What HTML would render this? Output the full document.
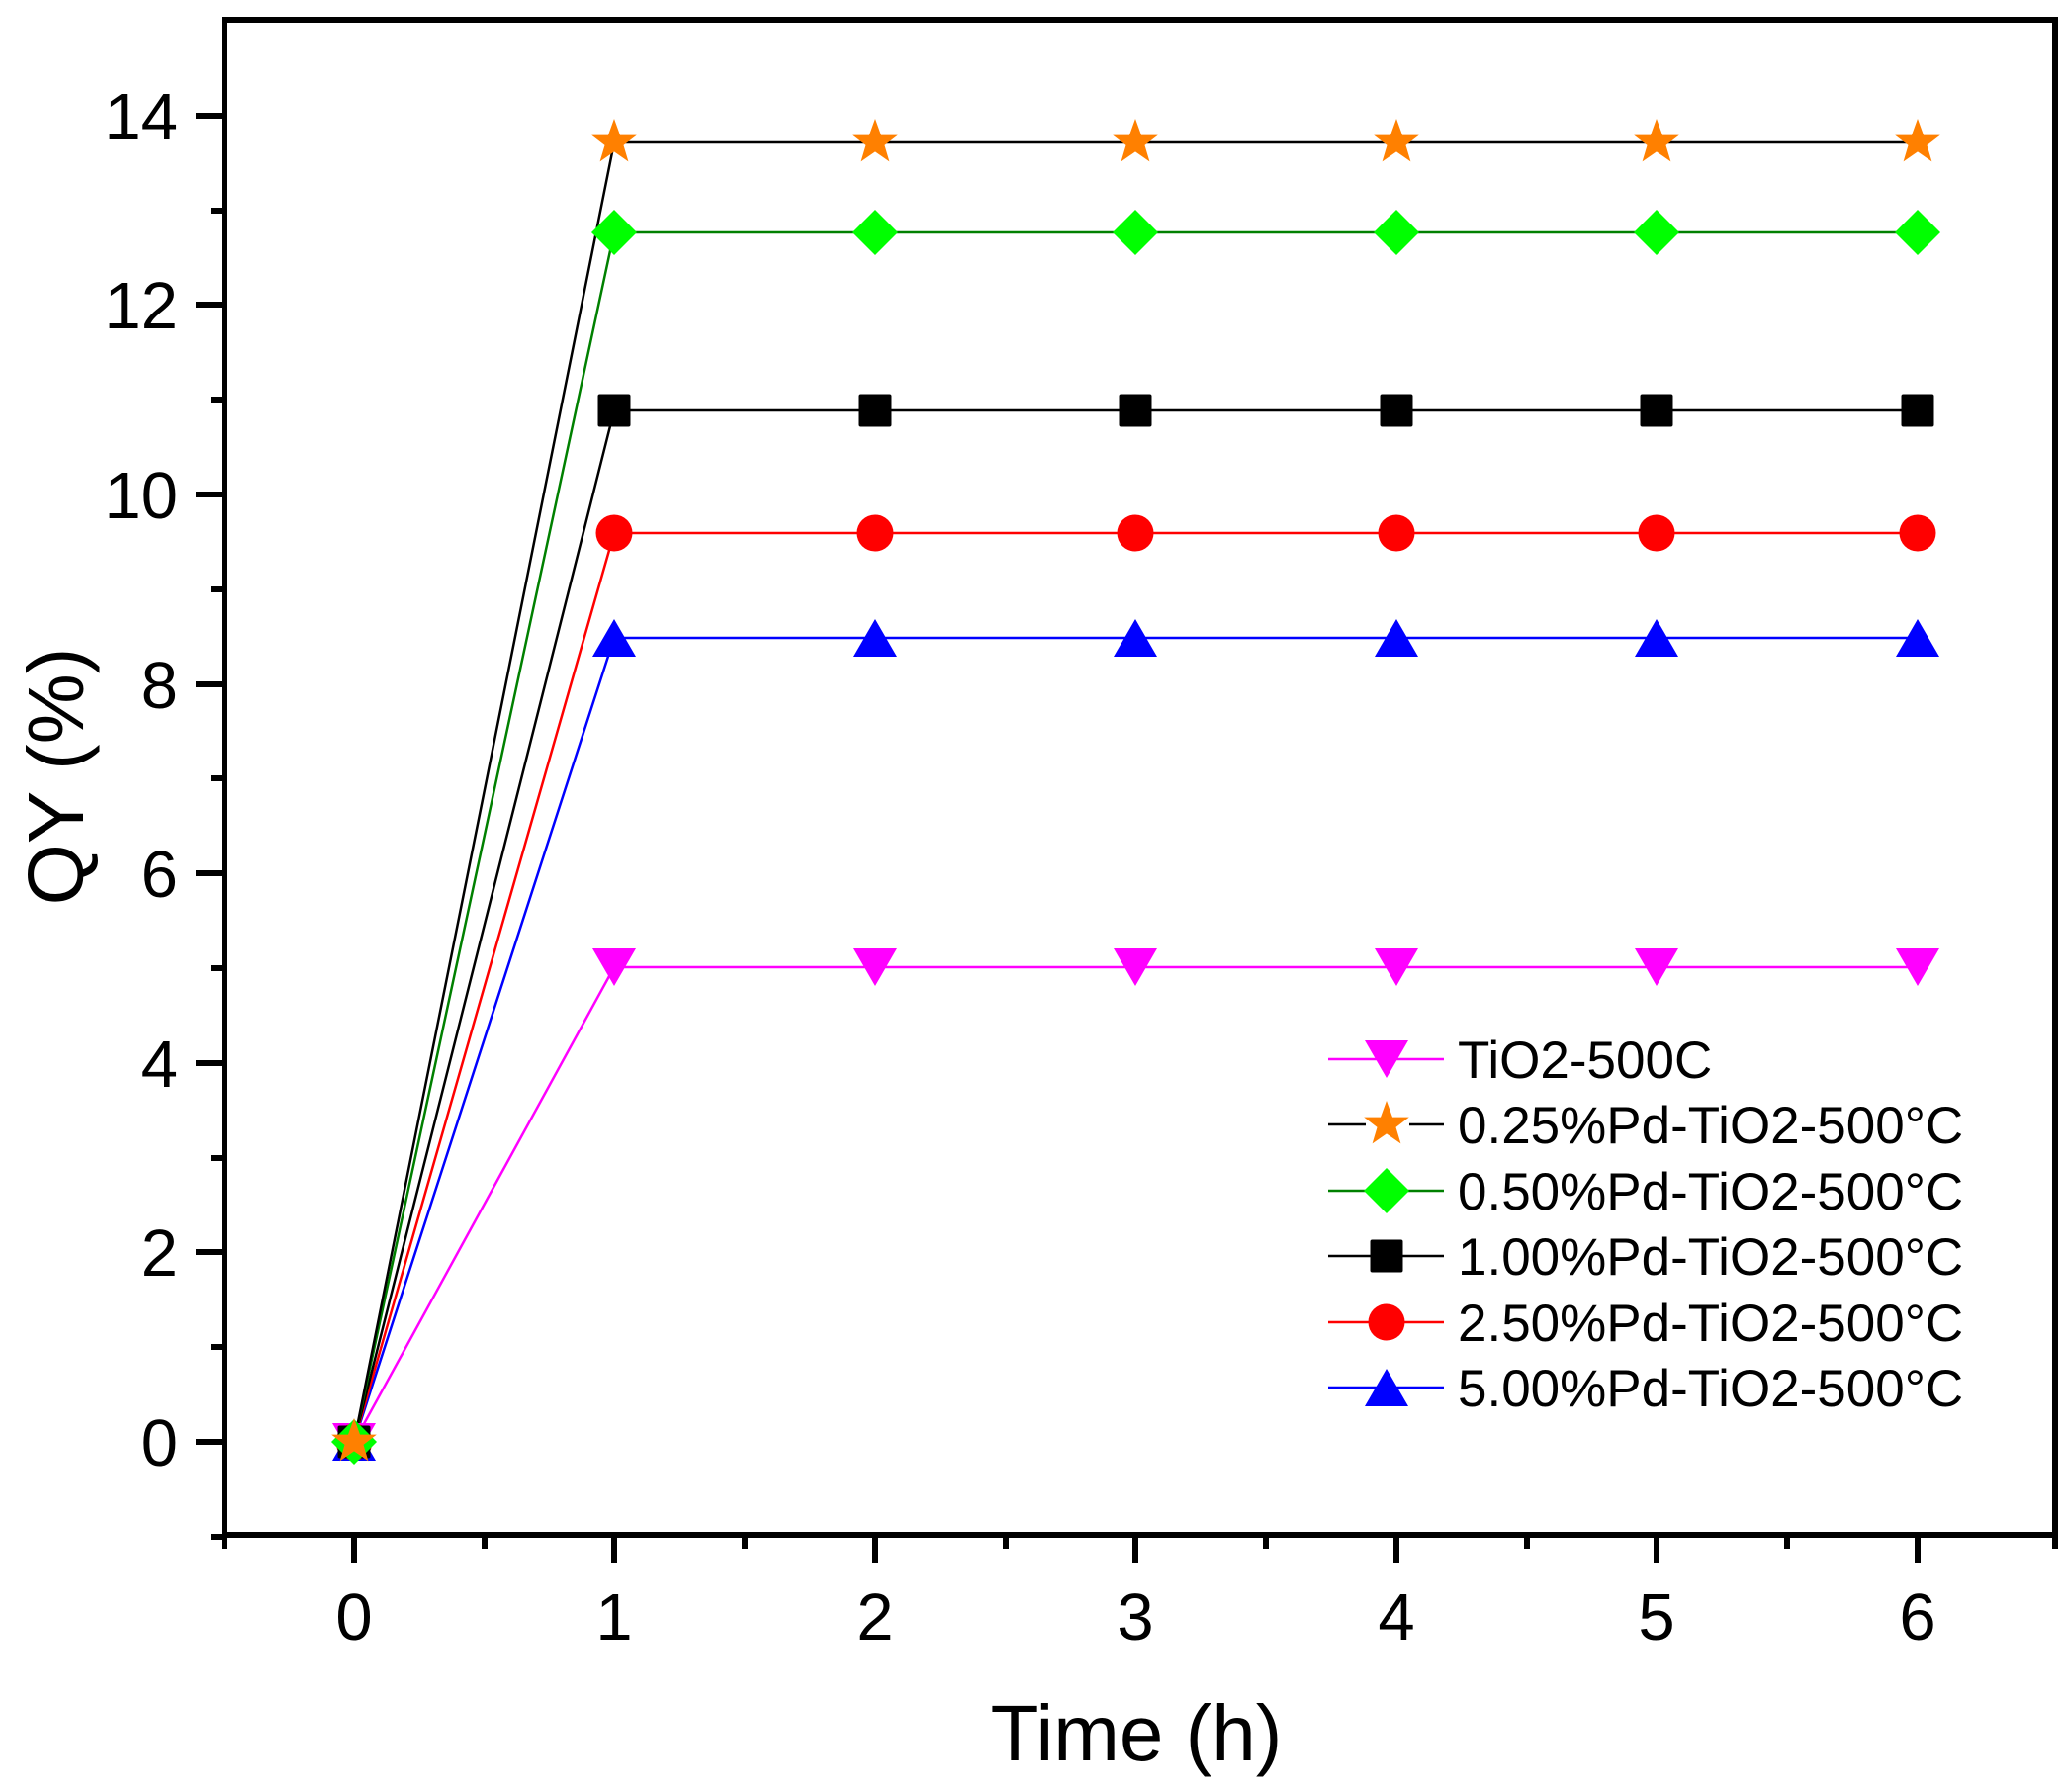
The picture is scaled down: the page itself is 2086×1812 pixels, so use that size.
<!DOCTYPE html>
<html><head><meta charset="utf-8"><style>
html,body{margin:0;padding:0;background:#fff}
svg{display:block}
text{font-family:"Liberation Sans",Arial,sans-serif;fill:#000}
</style></head><body>
<svg width="2086" height="1812" viewBox="0 0 2086 1812" xmlns="http://www.w3.org/2000/svg">
<defs>
<g id="dn"><polygon points="-22,-19 22,-19 0,19" fill="#ff00ff"/></g>
<g id="up"><polygon points="-22,19 22,19 0,-19" fill="#0000ff"/></g>
<g id="ci"><circle r="18.5" fill="#ff0000"/></g>
<g id="sq"><rect x="-16.5" y="-16.5" width="33" height="33" rx="2" fill="#000"/></g>
<g id="di"><polygon points="0,-23 23,0 0,23 -23,0" fill="#00ff00"/></g>
<g id="st"><polygon points="0,-24 6,-7.4 22.8,-7.4 9.5,2.9 14.4,19.4 0,9.4 -14.4,19.4 -9.5,2.9 -22.8,-7.4 -6,-7.4" fill="#ff8000"/></g>
</defs>
<g stroke-width="2.5" fill="none">
<polyline stroke="#ff00ff" points="358,1458 621,978 885,978 1148,978 1412,978 1675,978 1939,978"/>
<polyline stroke="#0000ff" points="358,1458 621,645 885,645 1148,645 1412,645 1675,645 1939,645"/>
<polyline stroke="#ff0000" points="358,1458 621,539 885,539 1148,539 1412,539 1675,539 1939,539"/>
<polyline stroke="#000" points="358,1458 621,415 885,415 1148,415 1412,415 1675,415 1939,415"/>
<polyline stroke="#008000" points="358,1458 621,235 885,235 1148,235 1412,235 1675,235 1939,235"/>
<polyline stroke="#000" points="358,1458 621,144 885,144 1148,144 1412,144 1675,144 1939,144"/>
</g>
<g>
<use href="#dn" x="358" y="1458"/><use href="#dn" x="621" y="978"/><use href="#dn" x="885" y="978"/><use href="#dn" x="1148" y="978"/><use href="#dn" x="1412" y="978"/><use href="#dn" x="1675" y="978"/><use href="#dn" x="1939" y="978"/>
<use href="#up" x="358" y="1458"/><use href="#up" x="621" y="645"/><use href="#up" x="885" y="645"/><use href="#up" x="1148" y="645"/><use href="#up" x="1412" y="645"/><use href="#up" x="1675" y="645"/><use href="#up" x="1939" y="645"/>
<use href="#ci" x="358" y="1458"/><use href="#ci" x="621" y="539"/><use href="#ci" x="885" y="539"/><use href="#ci" x="1148" y="539"/><use href="#ci" x="1412" y="539"/><use href="#ci" x="1675" y="539"/><use href="#ci" x="1939" y="539"/>
<use href="#sq" x="358" y="1458"/><use href="#sq" x="621" y="415"/><use href="#sq" x="885" y="415"/><use href="#sq" x="1148" y="415"/><use href="#sq" x="1412" y="415"/><use href="#sq" x="1675" y="415"/><use href="#sq" x="1939" y="415"/>
<use href="#di" x="358" y="1458"/><use href="#di" x="621" y="235"/><use href="#di" x="885" y="235"/><use href="#di" x="1148" y="235"/><use href="#di" x="1412" y="235"/><use href="#di" x="1675" y="235"/><use href="#di" x="1939" y="235"/>
<use href="#st" x="358" y="1458"/><use href="#st" x="621" y="144"/><use href="#st" x="885" y="144"/><use href="#st" x="1148" y="144"/><use href="#st" x="1412" y="144"/><use href="#st" x="1675" y="144"/><use href="#st" x="1939" y="144"/>
</g>
<g stroke="#000" stroke-width="6" fill="none">
<rect x="227" y="20" width="1851" height="1532"/>
</g>
<g stroke="#000" stroke-width="6">
<line x1="198" y1="1458" x2="227" y2="1458"/><line x1="198" y1="1266" x2="227" y2="1266"/><line x1="198" y1="1075" x2="227" y2="1075"/><line x1="198" y1="883" x2="227" y2="883"/><line x1="198" y1="692" x2="227" y2="692"/><line x1="198" y1="500" x2="227" y2="500"/><line x1="198" y1="308" x2="227" y2="308"/><line x1="198" y1="117" x2="227" y2="117"/>
<line x1="213" y1="1554" x2="227" y2="1554"/><line x1="213" y1="1362" x2="227" y2="1362"/><line x1="213" y1="1171" x2="227" y2="1171"/><line x1="213" y1="979" x2="227" y2="979"/><line x1="213" y1="787" x2="227" y2="787"/><line x1="213" y1="596" x2="227" y2="596"/><line x1="213" y1="404" x2="227" y2="404"/><line x1="213" y1="213" x2="227" y2="213"/>
<line x1="358" y1="1552" x2="358" y2="1580"/><line x1="621" y1="1552" x2="621" y2="1580"/><line x1="885" y1="1552" x2="885" y2="1580"/><line x1="1148" y1="1552" x2="1148" y2="1580"/><line x1="1412" y1="1552" x2="1412" y2="1580"/><line x1="1675" y1="1552" x2="1675" y2="1580"/><line x1="1939" y1="1552" x2="1939" y2="1580"/>
<line x1="227" y1="1552" x2="227" y2="1566"/><line x1="490" y1="1552" x2="490" y2="1566"/><line x1="753" y1="1552" x2="753" y2="1566"/><line x1="1017" y1="1552" x2="1017" y2="1566"/><line x1="1280" y1="1552" x2="1280" y2="1566"/><line x1="1544" y1="1552" x2="1544" y2="1566"/><line x1="1807" y1="1552" x2="1807" y2="1566"/><line x1="2078" y1="1552" x2="2078" y2="1566"/>
</g>
<g font-size="67" text-anchor="end">
<text x="180" y="1482">0</text><text x="180" y="1290">2</text><text x="180" y="1099">4</text><text x="180" y="907">6</text><text x="180" y="716">8</text><text x="180" y="524">10</text><text x="180" y="332">12</text><text x="180" y="141">14</text>
</g>
<g font-size="67" text-anchor="middle">
<text x="358" y="1658">0</text><text x="621" y="1658">1</text><text x="885" y="1658">2</text><text x="1148" y="1658">3</text><text x="1412" y="1658">4</text><text x="1675" y="1658">5</text><text x="1939" y="1658">6</text>
</g>
<text x="1149" y="1780" font-size="80" text-anchor="middle">Time (h)</text>
<text transform="translate(84,785) rotate(-90)" font-size="80" text-anchor="middle">QY (%)</text>
<g stroke-width="2.5">
<line x1="1343" y1="1071" x2="1460" y2="1071" stroke="#ff00ff"/>
<line x1="1343" y1="1137" x2="1460" y2="1137" stroke="#000"/>
<line x1="1343" y1="1204" x2="1460" y2="1204" stroke="#008000"/>
<line x1="1343" y1="1270" x2="1460" y2="1270" stroke="#000"/>
<line x1="1343" y1="1337" x2="1460" y2="1337" stroke="#ff0000"/>
<line x1="1343" y1="1403" x2="1460" y2="1403" stroke="#0000ff"/>
</g>
<rect x="1381" y="1120" width="44" height="34" fill="#fff"/>
<use href="#dn" x="1402" y="1071"/>
<use href="#st" x="1402" y="1137"/>
<use href="#di" x="1402" y="1204"/>
<use href="#sq" x="1402" y="1270"/>
<use href="#ci" x="1402" y="1337"/>
<use href="#up" x="1402" y="1403"/>
<g font-size="53">
<text x="1474" y="1090">TiO2-500C</text>
<text x="1474" y="1156">0.25%Pd-TiO2-500°C</text>
<text x="1474" y="1223">0.50%Pd-TiO2-500°C</text>
<text x="1474" y="1289">1.00%Pd-TiO2-500°C</text>
<text x="1474" y="1356">2.50%Pd-TiO2-500°C</text>
<text x="1474" y="1422">5.00%Pd-TiO2-500°C</text>
</g>
</svg>
</body></html>
